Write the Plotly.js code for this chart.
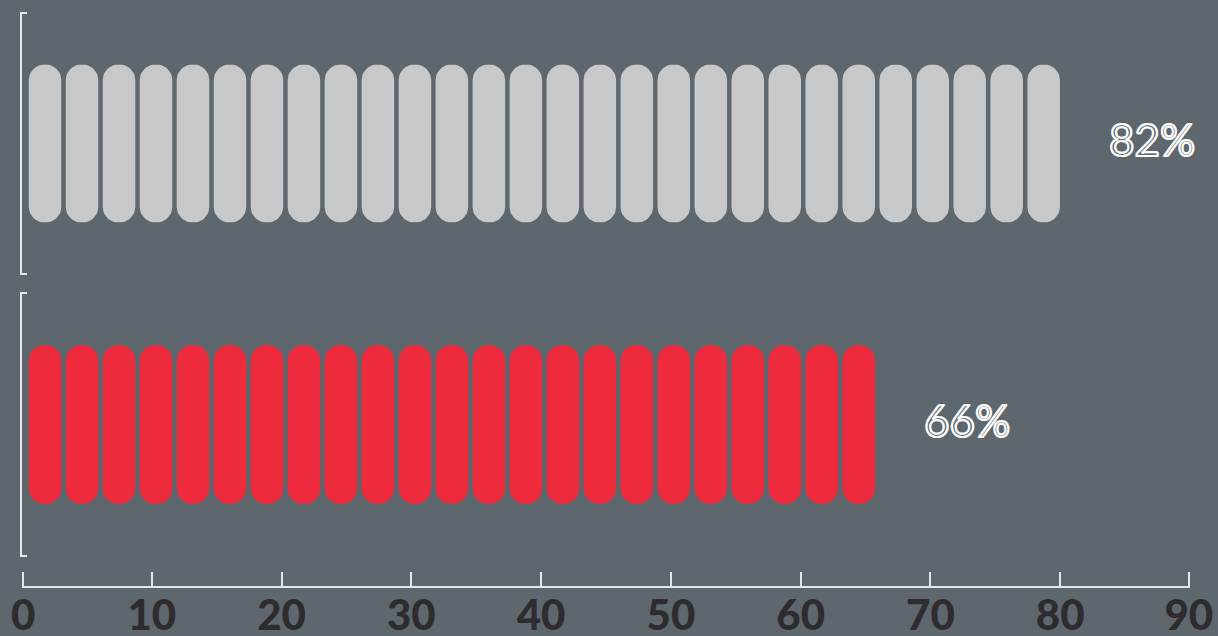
<!DOCTYPE html>
<html>
<head>
<meta charset="utf-8">
<script src="https://cdn.plot.ly/plotly-3.0.1.min.js"></script>
<style>
  html, body { margin: 0; padding: 0; background: #5e676e; }
  #chart { width: 1218px; height: 636px; }
  /* outlined percentage labels */
  .annotation-text { stroke: #ffffff; stroke-width: 2.2px; stroke-linejoin: round; }
</style>
</head>
<body>
<div id="chart"></div>
<script>
// Rows and their percentages
const categories = ['Row 1', 'Row 2'];
const values = [82, 66];
const valueLabels = ['82%', '66%'];

// Axis ticks
const tickValues = [0, 10, 20, 30, 40, 50, 60, 70, 80, 90];
const tickLabels = ['0', '10', '20', '30', '40', '50', '60', '70', '80', '90'];

// Pictogram geometry (x in axis units): one pill per SEG of value
const SEG = 2.85;
const START = 0.52;
const PILL = 2.51;
const PILL_HALF_HEIGHT = 0.3;   // in row units (row spans -0.5..0.5)
const CORNER_PX = 15.5;         // pill corner radius in pixels

const BG = '#5e676e';
const LINE = '#e6e6e6';
const rowColors = ['#c7c8ca', '#ee2b3c'];
const yRefs = ['y', 'y2'];

const W = 1218, H = 636;
const margin = { l: 22, r: 28, t: 12, b: 49, pad: 0 };
const xRange = [0, 90];
const yRange = [-0.5, 0.5];
const domains = [[0.5426, 1], [0.0522, 0.513]];

// pixel scale of each axis, used to keep pill corners circular
const plotW = W - margin.l - margin.r;
const plotH = H - margin.t - margin.b;
const pxPerX = plotW / (xRange[1] - xRange[0]);
const pxPerY = domains.map(d => (d[1] - d[0]) * plotH / (yRange[1] - yRange[0]));

function pillOutline(cx, hw, hh, rx, ry, xs, ys) {
  const steps = 10;
  const corners = [
    [cx + hw - rx, hh - ry, 0, Math.PI / 2],             // top-right
    [cx - hw + rx, hh - ry, Math.PI / 2, Math.PI],       // top-left
    [cx - hw + rx, -hh + ry, Math.PI, 1.5 * Math.PI],    // bottom-left
    [cx + hw - rx, -hh + ry, 1.5 * Math.PI, 2 * Math.PI] // bottom-right
  ];
  corners.forEach(([ccx, ccy, a0, a1]) => {
    for (let s = 0; s <= steps; s++) {
      const a = a0 + (a1 - a0) * s / steps;
      xs.push(ccx + rx * Math.cos(a));
      ys.push(ccy + ry * Math.sin(a));
    }
  });
  xs.push(cx + hw); ys.push(hh - ry);
  xs.push(null); ys.push(null);
}

const traces = [];
const annotations = [];

categories.forEach((cat, k) => {
  const n = Math.floor(values[k] / SEG);
  const rx = Math.min(CORNER_PX / pxPerX, PILL / 2);
  const ry = CORNER_PX / pxPerY[k];
  const xs = [], ys = [];
  for (let i = 0; i < n; i++) {
    const cx = START + PILL / 2 + i * SEG;
    pillOutline(cx, PILL / 2, PILL_HALF_HEIGHT, rx, ry, xs, ys);
  }
  traces.push({
    type: 'scatter',
    mode: 'lines',
    name: cat,
    x: xs,
    y: ys,
    yaxis: yRefs[k],
    fill: 'toself',
    fillcolor: rowColors[k],
    line: { width: 0, color: rowColors[k] },
    hoverinfo: 'skip',
    showlegend: false
  });
  const end = START + (n - 1) * SEG + PILL;
  annotations.push({
    x: end, y: 0, xref: 'x', yref: yRefs[k],
    xanchor: 'left', yanchor: 'middle', xshift: 47, yshift: 5,
    text: valueLabels[k], showarrow: false,
    font: { family: 'Lato, "Open Sans", sans-serif', size: 44, color: BG }
  });
});

// Plotly drops inside ticks lying within 1px of the axis ends,
// so the end ticks are moved just over a pixel inwards.
function nudgeEnds(vals, range, pxPerUnit) {
  const d = 1.2 / pxPerUnit;
  return vals.map(v => v <= range[0] ? range[0] + d : (v >= range[1] ? range[1] - d : v));
}

function yAxis(k) {
  return {
    domain: domains[k],
    range: yRange,
    showline: true, linecolor: LINE, linewidth: 2,
    ticks: 'inside', tickmode: 'array',
    tickvals: nudgeEnds(yRange, yRange, pxPerY[k]),
    ticklen: 5, tickwidth: 2, tickcolor: LINE,
    showticklabels: false, showgrid: false, zeroline: false,
    fixedrange: true, anchor: 'x'
  };
}

const layout = {
  width: W, height: H,
  paper_bgcolor: BG, plot_bgcolor: BG,
  margin: margin,
  showlegend: false,
  xaxis: {
    range: xRange,
    tickmode: 'array',
    tickvals: nudgeEnds(tickValues, xRange, pxPerX),
    ticktext: tickLabels,
    ticks: 'inside', ticklen: 14, tickwidth: 2, tickcolor: LINE,
    showline: true, linecolor: LINE, linewidth: 2,
    showgrid: false, zeroline: false,
    anchor: 'free', position: 0,
    ticklabelstandoff: -8,
    tickfont: { family: 'Lato, "Open Sans", sans-serif', size: 42, color: '#2f2c2f', weight: 900 },
    fixedrange: true
  },
  yaxis: yAxis(0),
  yaxis2: yAxis(1),
  annotations: annotations
};

Plotly.newPlot('chart', traces, layout, { displayModeBar: false });
</script>
</body>
</html>
